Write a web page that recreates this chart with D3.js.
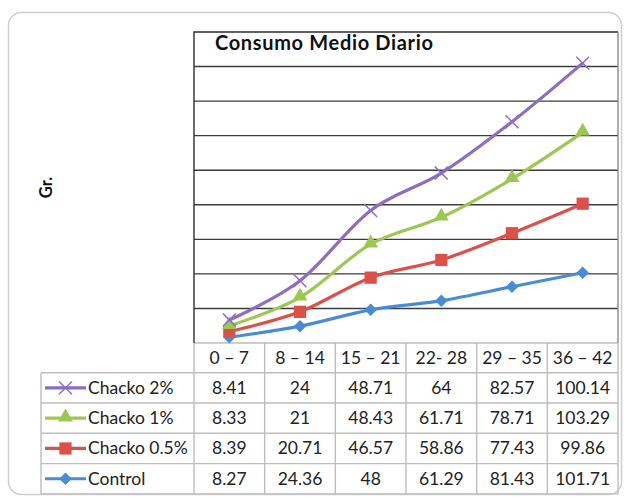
<!DOCTYPE html>
<html>
<head>
<meta charset="utf-8">
<script src="https://cdn.jsdelivr.net/npm/d3@7/dist/d3.min.js"></script>
<style>
  html, body { margin: 0; padding: 0; background: #fff; }
  svg { display: block; font-family: Lato, "Open Sans", sans-serif; }
</style>
</head>
<body>
<svg id="chart" width="629" height="497"></svg>
<script>
// Daily mean consumption per week range, one array per treatment
const periods = ["0 – 7", "8 – 14", "15 – 21", "22- 28", "29 – 35", "36 – 42"];
const control = [8.27, 24.36, 48, 61.29, 81.43, 101.71];
const chacko05 = [8.39, 20.71, 46.57, 58.86, 77.43, 99.86];
const chacko1 = [8.33, 21, 48.43, 61.71, 78.71, 103.29];
const chacko2 = [8.41, 24, 48.71, 64, 82.57, 100.14];
const yTicks = [0, 50, 100, 150, 200, 250, 300, 350, 400, 450];

const seriesDefs = [
  { key: "Control", values: control, color: "#4A8CD4", marker: "diamond" },
  { key: "Chacko 0.5%", values: chacko05, color: "#DA5149", marker: "square" },
  { key: "Chacko 1%", values: chacko1, color: "#9CC752", marker: "triangle" },
  { key: "Chacko 2%", values: chacko2, color: "#8D6CC4", marker: "x" }
];

const svg = d3.select("#chart");
const plot = { left: 194, right: 618, top: 32, bottom: 343 };
const rowH = 30.3;
const headerH = 29.7;
const legendLeft = 41;
const tableFont = 17.5;

// Outer chart frame
svg.append("rect")
  .attr("x", 8.5).attr("y", 12.5).attr("width", 613).attr("height", 482)
  .attr("rx", 13).attr("fill", "#fff")
  .attr("stroke", "#cfcfcf").attr("stroke-width", 1.5);

const x = d3.scaleBand().domain(periods).range([plot.left, plot.right]);
const y = d3.scaleLinear().domain([0, d3.max(yTicks)]).range([plot.bottom, plot.top]);

// Stacked line layout: each treatment sits on the cumulative total below it
const rows = periods.map((p, i) => {
  const r = { period: p };
  seriesDefs.forEach(s => r[s.key] = s.values[i]);
  return r;
});
const stacked = d3.stack().keys(seriesDefs.map(s => s.key))(rows);

// Horizontal gridlines
svg.append("g").selectAll("line")
  .data(yTicks.filter(t => t > 0 && t < d3.max(yTicks)))
  .join("line")
  .attr("x1", plot.left).attr("x2", plot.right)
  .attr("y1", d => y(d)).attr("y2", d => y(d))
  .attr("stroke", "#3c3c3c").attr("stroke-width", 1.4);

// Table grid
const tableBottom = plot.bottom + headerH + rowH * seriesDefs.length;
const grid = svg.append("g").attr("stroke", "#bdbdbd").attr("stroke-width", 1.4);
const colEdges = [plot.left, ...periods.map(p => x(p) + x.bandwidth())];
colEdges.forEach(cx => {
  grid.append("line")
    .attr("x1", cx).attr("x2", cx)
    .attr("y1", plot.bottom).attr("y2", tableBottom);
});
grid.append("line").attr("x1", legendLeft).attr("x2", legendLeft)
  .attr("y1", plot.bottom + headerH).attr("y2", tableBottom);
grid.append("line").attr("x1", plot.left).attr("x2", plot.right)
  .attr("y1", plot.bottom).attr("y2", plot.bottom);
for (let r = 0; r <= seriesDefs.length; r++) {
  const yy = plot.bottom + headerH + r * rowH;
  grid.append("line").attr("x1", legendLeft).attr("x2", plot.right)
    .attr("y1", yy).attr("y2", yy);
}

// Plot area border
svg.append("path")
  .attr("d", `M${plot.left},${plot.bottom}V${plot.top}H${plot.right}`)
  .attr("fill", "none").attr("stroke", "#2e2e2e").attr("stroke-width", 1.4);
svg.append("line")
  .attr("x1", plot.right).attr("x2", plot.right)
  .attr("y1", plot.top).attr("y2", plot.bottom)
  .attr("stroke", "#8a8a8a").attr("stroke-width", 1.4);

// Marker shapes
function markerPath(type) {
  if (type === "diamond") return d3.symbol(d3.symbolSquare, 78)();
  if (type === "square") return d3.symbol(d3.symbolSquare, 150)();
  if (type === "triangle") return d3.symbol(d3.symbolTriangle, 95)();
  return d3.symbol(d3.symbolTimes, 110)();
}
function drawMarker(g, type, color, cx, cy) {
  const m = g.append("path")
    .attr("d", markerPath(type))
    .attr("transform", `translate(${cx},${cy})` + (type === "diamond" ? " rotate(45)" : "") + (type === "triangle" ? " translate(0,-1)" : ""));
  if (type === "x") {
    m.attr("fill", "none").attr("stroke", color).attr("stroke-width", 1.5);
  } else {
    m.attr("fill", color);
  }
}

// Smoothed lines with markers
const line = d3.line()
  .x((d, i) => x(periods[i]) + x.bandwidth() / 2)
  .y(d => y(d[1]))
  .curve(d3.curveCardinal.tension(0));

stacked.forEach((layer, k) => {
  const s = seriesDefs[k];
  const g = svg.append("g");
  g.append("path")
    .attr("d", line(layer))
    .attr("fill", "none")
    .attr("stroke", s.color)
    .attr("stroke-width", 3.2)
    .attr("stroke-linejoin", "round");
  layer.forEach((d, i) => {
    drawMarker(g, s.marker, s.color, x(periods[i]) + x.bandwidth() / 2, y(d[1]));
  });
});

// Title
svg.append("text")
  .attr("x", 215).attr("y", 49.5)
  .attr("font-size", 20).attr("font-weight", "bold").attr("fill", "#111")
  .attr("textLength", 218).attr("lengthAdjust", "spacing")
  .text("Consumo Medio Diario");

// Y axis title
svg.append("text")
  .attr("transform", "translate(51.5,187.5) rotate(-90)")
  .attr("text-anchor", "middle")
  .attr("font-size", 16.5).attr("font-weight", "bold").attr("fill", "#111")
  .text("Gr.");

// Header row of the data table
svg.append("g").selectAll("text")
  .data(periods).join("text")
  .attr("x", d => x(d) + x.bandwidth() / 2)
  .attr("y", plot.bottom + headerH / 2 + 6)
  .attr("text-anchor", "middle")
  .attr("font-size", tableFont).attr("fill", "#222")
  .text(d => d);

// Table body, top row is the last series
const tableOrder = seriesDefs.slice().reverse();
tableOrder.forEach((s, r) => {
  const cy = plot.bottom + headerH + r * rowH + rowH / 2;
  const g = svg.append("g");
  g.append("line")
    .attr("x1", 45).attr("x2", 86).attr("y1", cy).attr("y2", cy)
    .attr("stroke", s.color).attr("stroke-width", 3.2);
  drawMarker(g, s.marker, s.color, 65.5, cy);
  g.append("text")
    .attr("x", 88).attr("y", cy + 6)
    .attr("font-size", tableFont).attr("fill", "#222")
    .text(s.key);
  g.selectAll("text.v")
    .data(s.values).join("text")
    .attr("class", "v")
    .attr("x", (d, i) => x(periods[i]) + x.bandwidth() / 2)
    .attr("y", cy + 6)
    .attr("text-anchor", "middle")
    .attr("font-size", tableFont).attr("fill", "#222")
    .text(d => d);
});
</script>
</body>
</html>
